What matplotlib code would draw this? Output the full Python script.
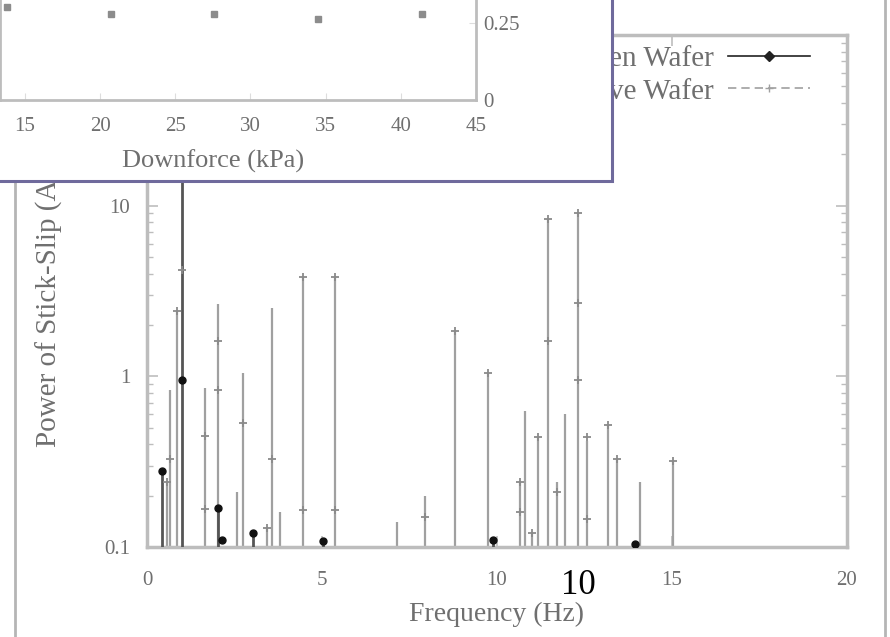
import matplotlib
matplotlib.use("Agg")
import matplotlib.pyplot as plt
from matplotlib.lines import Line2D
from matplotlib.patches import Rectangle

# --- main chart data ---
black_freq = [0.43, 1.0, 2.03, 3.03, 5.03, 9.89, 13.94]
black_peak = [0.28, 25, 0.17, 0.12, 0.108, 0.11, 0.104]
black_pt_freq = [0.43, 1.0, 2.03, 2.14, 3.03, 5.03, 9.89, 13.94]
black_pt_val = [0.28, 0.95, 0.17, 0.11, 0.12, 0.108, 0.11, 0.104]

gray_freq = [0.57, 0.66, 0.85, 1.66, 2.03, 2.57, 2.74, 3.43, 3.57, 3.8, 4.46,
             5.37, 7.14, 7.94, 8.8, 9.74, 10.66, 10.8, 11.0, 11.17, 11.46,
             11.71, 11.94, 12.31, 12.57, 13.17, 13.43, 14.09, 15.03]
gray_peak = [0.24, 0.83, 2.4, 0.86, 2.65, 0.21, 1.04, 0.13, 2.5, 0.16, 3.8,
             3.8, 0.14, 0.2, 1.85, 1.04, 0.24, 0.63, 0.12, 0.44, 8.4,
             0.24, 0.6, 9.0, 0.42, 0.52, 0.33, 0.24, 0.32]
gray_pt_freq = [0.57, 0.66, 0.85, 1.0, 1.66, 1.66, 2.03, 2.03, 2.74, 3.57,
                3.43, 4.46, 4.46, 5.37, 5.37, 7.94, 8.8, 9.74, 10.66, 10.66,
                11.0, 11.17, 11.46, 11.46, 11.71, 12.31, 12.31, 12.31, 12.57,
                12.57, 13.17, 13.43, 15.03]
gray_pt_val = [0.24, 0.33, 2.4, 4.2, 0.45, 0.166, 1.6, 0.83, 0.53, 0.33,
               0.13, 3.8, 0.165, 3.8, 0.165, 0.15, 1.85, 1.04, 0.16, 0.24,
               0.12, 0.44, 8.4, 1.6, 0.21, 9.0, 2.7, 0.95, 0.145,
               0.44, 0.52, 0.33, 0.32]

x_ticks = [0, 5, 10, 15, 20]
y_ticks = [0.1, 1, 10]
y_ticklabels = ["0.1", "1", "10"]

legend_labels = ["Broken Wafer", "Passive Wafer"]

# --- inset chart data ---
downforce = [13.8, 20.7, 27.6, 34.5, 41.4]
inset_val = [0.30, 0.277, 0.277, 0.263, 0.277]
inset_xticks = [15, 20, 25, 30, 35, 40, 45]
inset_yticks = [0, 0.25]

TXT = "#6f6f6f"
FRAME = "#bdbdbd"
GRAY = "#a0a0a0"

plt.rcParams["font.family"] = ["Liberation Serif", "DejaVu Serif"]

W, H = 890, 637
fig = plt.figure(figsize=(8.9, 6.37), dpi=100)


def fx(px):
    return px / W


def fy(py):
    return 1 - py / H


# main axes
ax = fig.add_axes([fx(147), fy(547), fx(847) - fx(147), fy(35) - fy(547)])
ax.set_zorder(1)
ax.set_yscale("log")
ax.set_xlim(0, 20)
ax.set_ylim(0.1, 100)

ax.vlines(gray_freq, 0.1, gray_peak, colors=GRAY, linewidth=1.6, zorder=2)
ax.vlines(black_freq, 0.1, black_peak, colors="#555555", linewidth=2.0, zorder=3)
ax.plot(gray_pt_freq, gray_pt_val, linestyle="none", marker="+", markersize=6,
        color="#8a8a8a", markeredgewidth=1.3, zorder=4)
ax.plot(black_pt_freq, black_pt_val, linestyle="none", marker="o", markersize=5,
        color="#111111", zorder=5)

for s in ax.spines.values():
    s.set_color(FRAME)
    s.set_linewidth(2.5)

ax.set_xticks(x_ticks)
ax.set_xticklabels([str(t) for t in x_ticks])
ax.set_yticks(y_ticks)
ax.set_yticklabels(y_ticklabels)
ax.tick_params(which="both", direction="in", top=True, right=True,
               colors=FRAME, labelcolor=TXT, labelsize=15)
ax.tick_params(which="major", length=8, width=1.2)
ax.tick_params(which="minor", length=4, width=1.0)
ax.tick_params(axis="x", which="major", pad=17)
ax.tick_params(axis="y", which="major", pad=12)
ax.set_xlabel("Frequency (Hz)", fontsize=20, color=TXT)
ax.xaxis.set_label_coords(0.5, -0.108)
ax.set_ylabel("Power of Stick-Slip (A.U.)", fontsize=21, color=TXT, labelpad=30)

handles = [
    Line2D([], [], color="#222222", linewidth=1.2, marker="D", markersize=5),
    Line2D([], [], color=GRAY, linewidth=1.2, linestyle=(0, (5, 3)),
           marker="+", markersize=6),
]
ax.legend(handles, legend_labels, loc="upper right", frameon=False,
          markerfirst=False, fontsize=21, handlelength=2.8, labelspacing=0.2,
          bbox_to_anchor=(0.955, 0.99), borderaxespad=0.0, borderpad=0.2,
          handletextpad=0.5, labelcolor=TXT)

# overlapping inset panel
box = Rectangle((fx(-5), fy(181)), fx(612) + fx(5), 1 - fy(181) + 0.02,
                transform=fig.transFigure, facecolor="white",
                edgecolor="#6f6a9c", linewidth=2.2, zorder=5)
fig.patches.append(box)

ins = fig.add_axes([0, fy(100), fx(476), 1 - fy(100) + 0.006])
ins.set_zorder(6)
ins.patch.set_alpha(0)
ins.set_xlim(13.34, 45)
ins.set_ylim(0, 0.336)
ins.plot(downforce, inset_val, linestyle="none", marker="s", markersize=4,
         color="#8c8c8c")
for name, s in ins.spines.items():
    s.set_color(FRAME)
    s.set_linewidth(2.0)
ins.spines["top"].set_color("#eadbe6")
ins.spines["top"].set_linewidth(6)
ins.set_xticks(inset_xticks)
ins.set_yticks(inset_yticks)
ins.set_yticklabels(["0", "0.25"])
ins.yaxis.tick_right()
ins.tick_params(direction="in", colors="#dddddd", labelcolor=TXT,
                labelsize=15, length=5, left=False, top=False)
ins.tick_params(axis="x", pad=12)
ins.tick_params(axis="y", pad=5)
ins.set_xlabel("Downforce (kPa)", fontsize=19, color=TXT)
ins.xaxis.set_label_coords(213 / 476, -0.48)

# page frame lines and page number
fig.add_artist(Line2D([fx(15), fx(15)], [fy(181), 0], color="#b5b5b5",
                      linewidth=2, zorder=4))
fig.add_artist(Line2D([fx(885), fx(885)], [1, 0], color="#b5b5b5",
                      linewidth=2, zorder=4))
fig.text(fx(578), fy(586), "10", fontsize=25, color="black",
         ha="center", va="center", zorder=10)

fig.savefig("out.png", dpi=100)
